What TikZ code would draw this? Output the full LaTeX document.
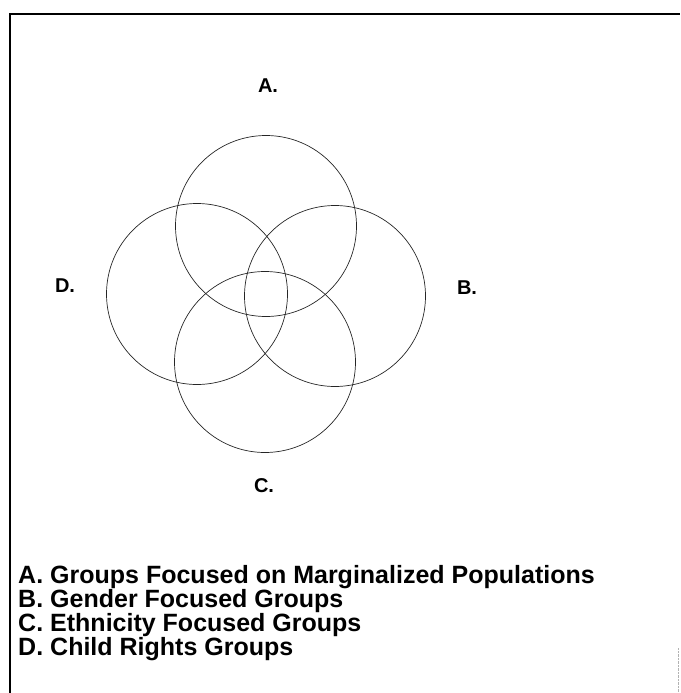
\documentclass[tikz,border=0pt]{standalone}
\usepackage{fontspec}
\setmainfont{Liberation Sans}
\usepackage{tikz}
\usetikzlibrary{positioning}

\begin{document}
\begin{tikzpicture}[x=1pt,y=-1pt,
  set/.style={circle,draw=black!85,line width=0.7pt,minimum size=181pt,inner sep=0pt},
  setlab/.style={inner sep=0pt,font=\fontsize{20}{22}\selectfont\bfseries},
  keyline/.style={anchor=base west,inner sep=0pt,font=\fontsize{25}{28}\selectfont\bfseries}]
\useasboundingbox (0,0) rectangle (680,693);
\draw[line width=1.6pt] (10,693) -- (10,14) -- (680,14);
\draw[gray!60,densely dotted] (678,648) -- (678,693);

\node[set] (setA) at (266,226) {};
\node[set] (setB) at (335,296) {};
\node[set] (setC) at (265,362) {};
\node[set] (setD) at (197,294) {};

\node[setlab] (labA) at (268,86) {A.};
\node[setlab] (labB) at (467,288) {B.};
\node[setlab] (labC) at (264,486) {C.};
\node[setlab] (labD) at (65,286) {D.};

\foreach \k/\txt/\yy in {A/Groups Focused on Marginalized Populations/583,
                         B/Gender Focused Groups/607,
                         C/Ethnicity Focused Groups/631,
                         D/Child Rights Groups/655}
  \node[keyline] (key\k) at (18,\yy) {\makebox[32pt][l]{\k.}\txt};
\end{tikzpicture}
\end{document}
